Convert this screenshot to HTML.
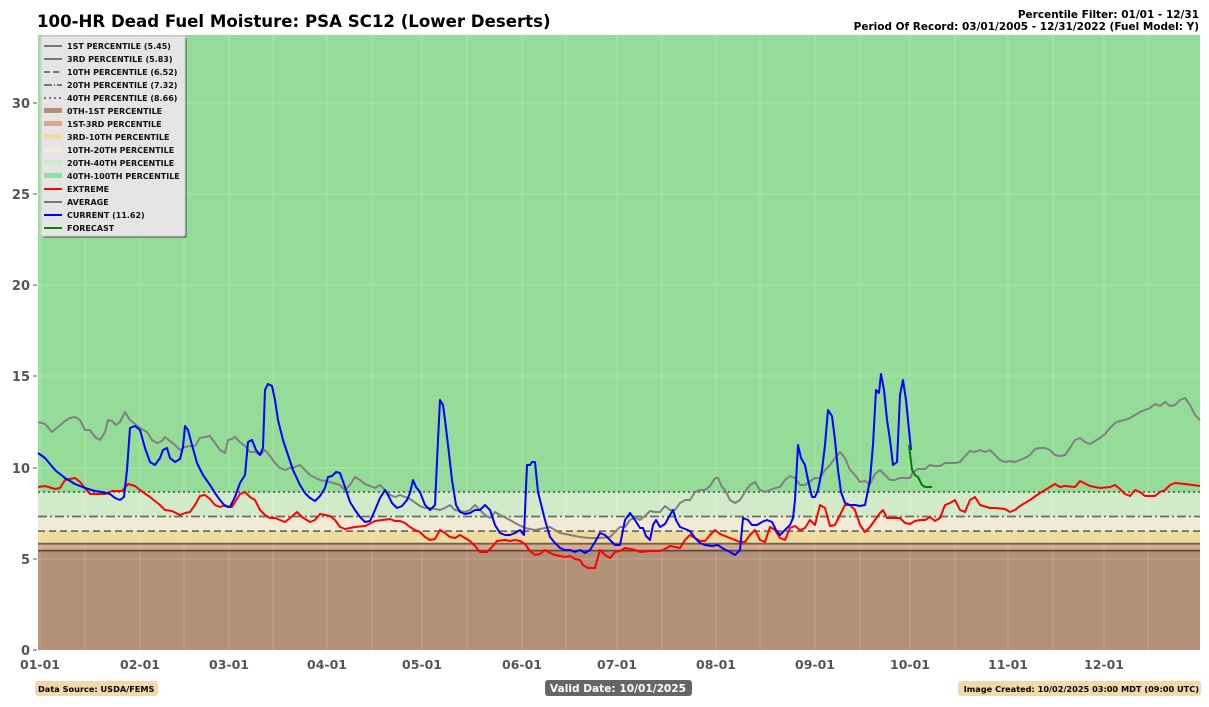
<!DOCTYPE html>
<html><head><meta charset="utf-8"><style>
body{margin:0;background:#fff;width:1209px;height:703px;overflow:hidden;font-family:"DejaVu Sans",sans-serif}
</style></head><body>
<svg width="1209" height="703" xmlns="http://www.w3.org/2000/svg" font-family="DejaVu Sans, Liberation Sans, sans-serif">
<text x="37" y="27" font-size="16.6" font-weight="bold" fill="#000">100-HR Dead Fuel Moisture: PSA SC12 (Lower Deserts)</text>
<text x="1199" y="18" font-size="10.5" font-weight="bold" text-anchor="end">Percentile Filter: 01/01 - 12/31</text>
<text x="1199" y="30" font-size="10.5" font-weight="bold" text-anchor="end">Period Of Record: 03/01/2005 - 12/31/2022 (Fuel Model: Y)</text>
<rect x="38" y="35" width="1162" height="457" fill="#95dc98"/>
<rect x="38" y="492" width="1162" height="24.5" fill="#d1ebc8"/>
<rect x="38" y="516.5" width="1162" height="14.6" fill="#f1ead6"/>
<rect x="38" y="531.1" width="1162" height="12.6" fill="#f0dba0"/>
<rect x="38" y="543.7" width="1162" height="6.9" fill="#d8a98a"/>
<rect x="38" y="550.6" width="1162" height="99.4" fill="#b39078"/>
<g stroke="#fff" stroke-opacity="0.2" stroke-width="1">
<line x1="38" x2="1200" y1="559" y2="559"/><line x1="38" x2="1200" y1="468" y2="468"/><line x1="38" x2="1200" y1="376" y2="376"/><line x1="38" x2="1200" y1="285" y2="285"/><line x1="38" x2="1200" y1="194" y2="194"/><line x1="38" x2="1200" y1="103" y2="103"/>
<line x1="40" x2="40" y1="35" y2="650"/><line x1="85" x2="85" y1="35" y2="650"/><line x1="140" x2="140" y1="35" y2="650"/><line x1="184" x2="184" y1="35" y2="650"/><line x1="229" x2="229" y1="35" y2="650"/><line x1="273" x2="273" y1="35" y2="650"/><line x1="327" x2="327" y1="35" y2="650"/><line x1="372" x2="372" y1="35" y2="650"/><line x1="422" x2="422" y1="35" y2="650"/><line x1="467" x2="467" y1="35" y2="650"/><line x1="522" x2="522" y1="35" y2="650"/><line x1="566" x2="566" y1="35" y2="650"/><line x1="617" x2="617" y1="35" y2="650"/><line x1="662" x2="662" y1="35" y2="650"/><line x1="716" x2="716" y1="35" y2="650"/><line x1="760" x2="760" y1="35" y2="650"/><line x1="815" x2="815" y1="35" y2="650"/><line x1="860" x2="860" y1="35" y2="650"/><line x1="910" x2="910" y1="35" y2="650"/><line x1="955" x2="955" y1="35" y2="650"/><line x1="1008" x2="1008" y1="35" y2="650"/><line x1="1053" x2="1053" y1="35" y2="650"/><line x1="1104" x2="1104" y1="35" y2="650"/><line x1="1148" x2="1148" y1="35" y2="650"/>
</g>
<line x1="38" x2="1200" y1="550.6" y2="550.6" stroke="#5a4a40" stroke-width="1.8"/>
<line x1="38" x2="1200" y1="543.7" y2="543.7" stroke="#6a6550" stroke-width="1.8"/>
<line x1="38" x2="1200" y1="531.1" y2="531.1" stroke="#6e6e66" stroke-width="1.8" stroke-dasharray="7,4"/>
<line x1="38" x2="1200" y1="516.5" y2="516.5" stroke="#66705e" stroke-width="1.8" stroke-dasharray="9,3,2,3"/>
<line x1="38" x2="1200" y1="492" y2="492" stroke="#4d6a4d" stroke-width="1.8" stroke-dasharray="2,3"/>
<g fill="none" stroke-width="2" stroke-linejoin="round">
<polyline stroke="#808080" points="38,422 45,424 52,432 58,427 65,421 70,418 75,417 80,420 85,430 90,430 95,437 100,440 105,432 108,420 112,421 116,425 120,422 125,412 130,420 135,424 140,428 147,432 152,440 157,443 162,441 165,437 170,441 175,445 180,450 185,447 190,446 195,446 200,438 205,437 210,436 215,443 220,450 225,453 228,440 232,439 235,437 240,442 245,446 250,452 255,452 260,455 265,450 270,456 275,463 280,468 285,470 290,468 295,467 300,465 305,470 310,475 320,480 330,482 340,485 345,490 350,485 355,477 360,480 365,484 375,488 380,485 390,495 395,497 400,495 410,499 420,506 425,508 430,508 440,510 445,508 450,505 455,510 465,512 470,510 475,505 480,510 485,515 490,518 495,512 500,515 510,520 515,523 525,528 535,530 545,528 550,527 555,530 560,533 570,535 580,537 590,538 600,538 610,537 620,527 625,527 630,520 635,517 640,520 645,516 650,511 655,512 660,512 665,506 670,510 675,510 680,503 685,500 690,500 695,492 700,490 705,490 710,486 715,478 718,478 722,487 725,490 730,500 735,503 740,500 745,492 750,485 755,482 760,490 765,492 770,490 775,488 780,487 785,480 790,476 795,478 800,485 805,485 812,480 815,478 820,478 825,470 830,465 835,458 840,452 845,458 850,470 855,475 860,482 865,481 870,484 875,474 880,470 885,475 890,480 895,480 900,478 905,478 910,478 913,472 918,469 925,469 930,465 935,466 940,466 945,463 955,463 960,462 965,456 970,451 975,452 980,450 985,452 990,450 995,455 1000,460 1005,462 1010,461 1015,462 1020,460 1025,458 1030,455 1035,449 1040,448 1045,448 1050,450 1055,455 1060,456 1065,455 1070,448 1075,440 1080,438 1085,442 1090,444 1095,441 1100,438 1105,434 1110,428 1115,423 1120,421 1125,420 1130,418 1135,415 1140,412 1145,410 1150,408 1155,404 1160,406 1165,402 1170,406 1175,405 1180,400 1185,398 1190,405 1195,415 1200,420"/>
<polyline stroke="#ff0000" points="38,487 45,486 55,489 60,488 65,480 70,479 75,478 80,482 85,488 90,494 95,494 105,494 112,491 118,491 122,491 128,484 135,486 140,490 150,497 160,505 165,510 172,511 180,515 185,513 190,512 195,505 200,496 205,495 210,499 215,505 220,507 225,505 228,507 232,507 240,494 245,492 250,497 255,500 260,510 265,515 270,518 275,518 280,520 285,522 290,518 297,512 302,517 310,522 315,520 320,514 330,516 335,520 340,527 345,529 355,527 365,526 375,521 390,519 395,521 400,521 405,523 410,527 415,530 420,532 425,537 430,540 435,539 440,530 445,533 450,537 455,538 460,535 465,538 470,541 475,546 480,552 487,552 492,547 497,541 505,540 510,541 515,540 520,541 525,544 530,551 535,555 540,554 545,550 550,553 555,555 560,556 565,557 570,556 575,559 580,560 583,565 588,568 595,568 600,550 605,555 610,558 615,552 620,551 625,548 630,549 635,550 640,552 650,551 660,551 665,549 670,546 675,547 680,548 685,540 690,535 695,538 700,541 705,541 710,535 715,530 720,534 730,538 735,540 740,542 745,542 750,535 755,530 760,540 765,542 770,527 775,530 780,538 785,540 790,528 795,526 800,530 805,528 810,520 815,525 820,505 825,508 830,526 835,525 840,515 845,505 850,505 855,510 860,525 865,532 870,527 875,520 880,513 883,510 887,518 895,518 900,518 905,523 910,524 915,521 920,520 925,520 930,517 935,521 940,518 945,505 950,503 955,500 960,510 965,512 970,500 975,497 980,505 990,508 995,508 1005,509 1010,512 1015,510 1020,506 1030,500 1040,493 1050,487 1055,484 1060,487 1065,486 1075,487 1080,481 1090,486 1100,488 1110,487 1115,485 1120,489 1125,494 1130,496 1135,490 1140,492 1145,496 1155,496 1160,492 1165,490 1170,485 1175,483 1185,484 1200,486"/>
<polyline stroke="#0000ff" points="38,453 45,458 55,470 65,478 75,484 85,488 95,491 102,492 110,494 115,498 120,500 124,497 127,470 130,428 135,426 140,430 145,448 150,462 155,465 160,458 163,450 167,448 170,458 175,462 180,459 183,447 185,426 188,430 192,445 197,463 203,475 210,485 215,493 220,500 225,506 230,507 235,497 240,483 245,475 248,442 252,440 256,450 260,455 263,448 265,390 268,384 272,386 275,400 278,420 283,440 288,455 293,470 300,485 305,493 310,498 315,501 320,496 325,488 328,477 332,476 336,472 340,473 345,487 350,502 355,510 360,517 365,522 370,521 375,510 380,498 385,490 388,495 392,503 397,508 402,506 407,500 410,493 413,480 416,487 420,492 425,505 430,510 435,505 438,440 440,400 443,405 445,420 448,445 452,480 456,505 460,512 465,514 470,513 475,510 480,510 485,505 490,510 495,525 500,533 505,535 510,535 515,533 520,530 524,535 527,465 530,465 532,462 535,462 538,492 545,520 550,537 555,543 560,548 565,550 570,550 575,552 580,550 585,553 590,550 595,542 600,533 605,535 610,540 615,545 620,545 625,520 630,513 635,520 640,528 643,528 646,536 650,540 653,525 656,520 660,527 665,524 670,515 673,510 676,520 680,527 685,529 690,531 695,538 700,543 705,545 712,546 718,545 722,548 730,552 735,555 740,550 743,518 748,520 752,525 757,525 762,522 767,520 772,522 776,530 780,535 785,530 790,525 793,518 795,500 798,445 801,458 805,465 808,480 812,497 815,497 818,490 822,470 825,445 828,410 832,416 835,440 838,470 841,492 845,503 850,505 855,505 860,506 865,505 870,480 873,445 876,390 879,393 881,374 884,390 887,420 890,440 893,465 897,462 900,395 903,380 906,400 909,430 911,450"/>
<polyline stroke="#008000" points="909,445 912,470 915,475 918,477 922,485 925,487 932,487"/>
</g>
<g stroke="#555" stroke-width="1">
<line x1="33" x2="37" y1="650" y2="650"/><line x1="33" x2="37" y1="559" y2="559"/><line x1="33" x2="37" y1="468" y2="468"/><line x1="33" x2="37" y1="376" y2="376"/><line x1="33" x2="37" y1="285" y2="285"/><line x1="33" x2="37" y1="194" y2="194"/><line x1="33" x2="37" y1="103" y2="103"/>
</g>
<g font-size="13" font-weight="bold" fill="#555" text-anchor="end">
<text x="30" y="655">0</text><text x="30" y="564">5</text><text x="30" y="473">10</text><text x="30" y="381">15</text><text x="30" y="290">20</text><text x="30" y="199">25</text><text x="30" y="108">30</text>
</g>
<g font-size="12.5" font-weight="bold" fill="#555" text-anchor="middle">
<text x="40" y="669">01-01</text><text x="140" y="669">02-01</text><text x="229" y="669">03-01</text><text x="327" y="669">04-01</text><text x="422" y="669">05-01</text><text x="522" y="669">06-01</text><text x="617" y="669">07-01</text><text x="716" y="669">08-01</text><text x="815" y="669">09-01</text><text x="910" y="669">10-01</text><text x="1008" y="669">11-01</text><text x="1104" y="669">12-01</text>
</g>
<rect x="43" y="38" width="144" height="200" rx="2" fill="#555" opacity="0.6"/>
<rect x="41" y="36" width="144" height="200" rx="2" fill="#e5e5e5" stroke="#ccc"/>
<g stroke-width="2">
<line x1="44" x2="62" y1="46" y2="46" stroke="#777"/>
<line x1="44" x2="62" y1="59" y2="59" stroke="#777"/>
<line x1="44" x2="62" y1="72" y2="72" stroke="#777" stroke-dasharray="6,3"/>
<line x1="44" x2="62" y1="85" y2="85" stroke="#777" stroke-dasharray="8,2,1,2"/>
<line x1="44" x2="62" y1="98" y2="98" stroke="#777" stroke-dasharray="2,3"/>
<line x1="44" x2="62" y1="189" y2="189" stroke="#f00"/>
<line x1="44" x2="62" y1="202" y2="202" stroke="#777"/>
<line x1="44" x2="62" y1="215" y2="215" stroke="#00f"/>
<line x1="44" x2="62" y1="228" y2="228" stroke="#080"/>
</g>
<rect x="44" y="108" width="18" height="5" fill="#b39078"/>
<rect x="44" y="121" width="18" height="5" fill="#d8a98a"/>
<rect x="44" y="134" width="18" height="5" fill="#f0dba0"/>
<rect x="44" y="147" width="18" height="5" fill="#f1ead6"/>
<rect x="44" y="160" width="18" height="5" fill="#d1ebc8"/>
<rect x="44" y="173" width="18" height="5" fill="#95dc98"/>
<g font-size="8" font-weight="bold" fill="#111">
<text x="67" y="49">1ST PERCENTILE (5.45)</text><text x="67" y="62">3RD PERCENTILE (5.83)</text><text x="67" y="75">10TH PERCENTILE (6.52)</text><text x="67" y="88">20TH PERCENTILE (7.32)</text><text x="67" y="101">40TH PERCENTILE (8.66)</text><text x="67" y="114">0TH-1ST PERCENTILE</text><text x="67" y="127">1ST-3RD PERCENTILE</text><text x="67" y="140">3RD-10TH PERCENTILE</text><text x="67" y="153">10TH-20TH PERCENTILE</text><text x="67" y="166">20TH-40TH PERCENTILE</text><text x="67" y="179">40TH-100TH PERCENTILE</text><text x="67" y="192">EXTREME</text><text x="67" y="205">AVERAGE</text><text x="67" y="218">CURRENT (11.62)</text><text x="67" y="231">FORECAST</text>
</g>
<rect x="35" y="681" width="123" height="15" rx="3" fill="#f2d9a9"/>
<text x="38" y="692" font-size="8.2" font-weight="bold">Data Source: USDA/FEMS</text>
<rect x="545" y="680" width="147" height="16" rx="3" fill="#666"/>
<text x="618" y="692" font-size="10.6" font-weight="bold" fill="#fff" text-anchor="middle">Valid Date: 10/01/2025</text>
<rect x="958" y="681" width="243" height="15" rx="3" fill="#f2d9a9"/>
<text x="1199" y="692" font-size="8.2" font-weight="bold" text-anchor="end">Image Created: 10/02/2025 03:00 MDT (09:00 UTC)</text>
</svg>
</body></html>
